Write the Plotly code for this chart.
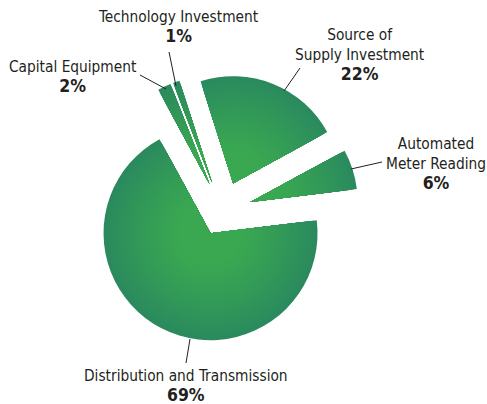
import plotly.graph_objects as go

# ---- data ----
labels = ["Capital Equipment", "Technology Investment", "Source of Supply Investment",
          "Automated Meter Reading", "Distribution and Transmission"]
values = [2, 1, 22, 6, 69]
label_names = ["Capital Equipment", "Technology Investment", "Source of<br>Supply Investment",
               "Automated<br>Meter Reading", "Distribution and Transmission"]
pct_texts = ["2%", "1%", "22%", "6%", "69%"]

W, H = 487, 404
CX, CY = 222, 211          # pie centre (px)
R = 107                    # outer radius (px)
RMIN = 32
pull_px = [30, 30, 30, 30, 25]
DMAX = max(pull_px)
ROT = -28.5

outer = (42, 138, 94)
inner = (62, 176, 78)

fig = go.Figure()
N = 30
for k in range(N):
    r = R - (R - RMIN) * k / (N - 1)
    t = r / R  # 1 at edge
    col = tuple(round(inner[i] + (outer[i] - inner[i]) * t ** 1.3) for i in range(3))
    D = 2 * (r + DMAX)
    fig.add_trace(go.Pie(
        labels=labels, values=values, sort=False, direction="clockwise",
        rotation=ROT, pull=[min(1, p / r) for p in pull_px],
        marker=dict(colors=["rgb(%d,%d,%d)" % col] * len(values), line=dict(width=0)),
        textinfo="none", hoverinfo="skip" if k else "label+percent", showlegend=False,
        domain=dict(x=[(CX - D / 2) / W, (CX + D / 2) / W],
                    y=[1 - (CY + D / 2) / H, 1 - (CY - D / 2) / H]),
    ))

# label positions (px): centre x, centre y
label_pos = [(73, 77), (178, 27), (360, 55), (436, 164), (186, 386)]
leaders = [((140, 75), (166, 89)), ((169, 52), (176, 86)), ((300, 68), (284, 91)),
           ((382, 162), (351, 169)), ((190, 339), (186, 363))]

for name, pct, (x, y) in zip(label_names, pct_texts, label_pos):
    txt = name + "<br><span style='font-size:17.5px'><b>" + pct + "</b></span>"
    fig.add_annotation(x=x / W, y=1 - y / H, xref="paper", yref="paper", text=txt,
                       showarrow=False, xanchor="center", yanchor="middle",
                       font=dict(family="DejaVu Sans Condensed, Roboto, sans-serif",
                                 size=15.3, color="#231f20"))
for (a, b) in leaders:
    fig.add_shape(type="line", xref="paper", yref="paper",
                  x0=a[0] / W, y0=1 - a[1] / H, x1=b[0] / W, y1=1 - b[1] / H,
                  line=dict(color="#231f20", width=1))

fig.update_layout(width=W, height=H, margin=dict(l=0, r=0, t=0, b=0),
                  paper_bgcolor="white", plot_bgcolor="white")
fig.write_html("out.html", config={"displayModeBar": False},
               post_script="document.body.style.margin='0px';")
